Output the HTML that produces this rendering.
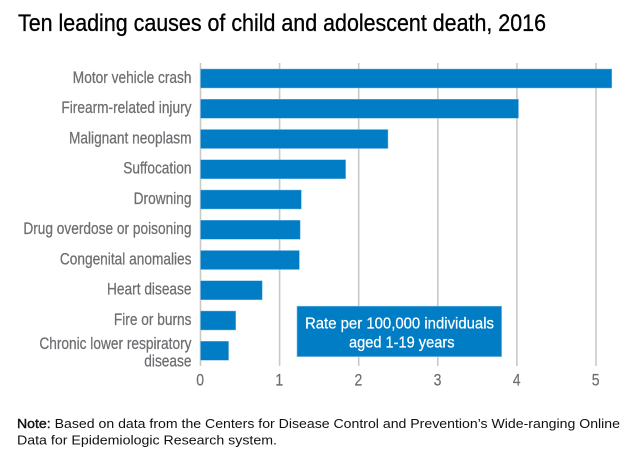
<!DOCTYPE html>
<html>
<head>
<meta charset="utf-8">
<style>
html,body{margin:0;padding:0;background:#fff;}
svg{display:block;font-family:"Liberation Sans",sans-serif;}
</style>
</head>
<body>
<svg id="chart" xmlns="http://www.w3.org/2000/svg" width="626" height="454" viewBox="0 0 626 454">
<rect x="0" y="0" width="626" height="454" fill="#ffffff"/>
<text x="18" y="31" font-size="24" fill="#000000" stroke="#000000" stroke-width="0.3" textLength="528" lengthAdjust="spacingAndGlyphs">Ten leading causes of child and adolescent death, 2016</text>
<g id="grid"></g>
<g id="bars"></g>
<g id="cats"></g>
<g id="ticks"></g>
<g>
<rect x="297" y="306.2" width="204.6" height="50.4" fill="#007dc5" stroke="#7dbbe2" stroke-width="0.6"/>
<text x="305" y="328.5" font-size="16" fill="#ffffff" stroke="#ffffff" stroke-width="0.25" textLength="189" lengthAdjust="spacingAndGlyphs">Rate per 100,000 individuals</text>
<text x="349" y="347.5" font-size="16" fill="#ffffff" stroke="#ffffff" stroke-width="0.25" textLength="105.5" lengthAdjust="spacingAndGlyphs">aged 1-19 years</text>
</g>
<text x="17" y="428" font-size="13" fill="#111111" textLength="603" lengthAdjust="spacingAndGlyphs"><tspan stroke="#111111" stroke-width="0.4">Note:</tspan> Based on data from the Centers for Disease Control and Prevention’s Wide-ranging Online</text>
<text x="17" y="444.5" font-size="13" fill="#111111" textLength="260" lengthAdjust="spacingAndGlyphs">Data for Epidemiologic Research system.</text>
</svg>
<script>
const categories = ["Motor vehicle crash","Firearm-related injury","Malignant neoplasm","Suffocation","Drowning","Drug overdose or poisoning","Congenital anomalies","Heart disease","Fire or burns","Chronic lower respiratory|disease"];
const rates = [5.2,4.02,2.37,1.835,1.275,1.26,1.25,0.78,0.445,0.355];
const tickValues = [0,1,2,3,4,5];

const NS = "http://www.w3.org/2000/svg";
const xZero = 200.5, xUnit = 79.1;
const bandStart = 69, bandStep = 30.25, barHeight = 19;
const gridTop = 63, gridBottom = 366;
const labelRight = 191.5, labelScale = 0.83, tickScale = 0.85;
const grey = "#6d6e71";

function xScale(v){ return xZero + v * xUnit; }
function bandTop(i){ return bandStart + i * bandStep; }
function make(tag, attrs, parent){
  const el = document.createElementNS(NS, tag);
  for (const k in attrs) el.setAttribute(k, attrs[k]);
  parent.appendChild(el);
  return el;
}
function addLabel(parent, line, y){
  const t = make("text", {
    transform: "translate(" + labelRight + "," + y + ") scale(" + labelScale + ",1)",
    "text-anchor": "end", "font-size": 16.5, fill: grey, stroke: grey, "stroke-width": 0.25
  }, parent);
  
  
  t.textContent = line;
}

const gridG = document.getElementById("grid");
const barsG = document.getElementById("bars");
const catsG = document.getElementById("cats");
const ticksG = document.getElementById("ticks");

tickValues.forEach(function(v){
  const line = make("line", {
    x1: xScale(v), x2: xScale(v), y1: gridTop, y2: gridBottom,
    stroke: "#c9c9c9", "stroke-width": 1.6
  }, gridG);
  
  
  const label = make("text", {
    transform: "translate(" + (xScale(v) - 0.3) + ",385.5) scale(" + tickScale + ",1)",
    "text-anchor": "middle", "font-size": 16.5, fill: grey, stroke: grey, "stroke-width": 0.2
  }, ticksG);
  
  
  label.textContent = String(v);
});

rates.forEach(function(v, i){
  const top = bandTop(i);
  const bar = make("rect", {
    x: xScale(0), y: top, width: xScale(v) - xScale(0), height: barHeight,
    fill: "#007dc5", stroke: "#7dbbe2", "stroke-width": 0.5
  }, barsG);
  
  
  const lines = categories[i].split("|");
  const centre = top + barHeight / 2;
  if (lines.length === 1) {
    addLabel(catsG, lines[0], centre + 4.4);
  } else {
    addLabel(catsG, lines[0], centre - 1.7);
    addLabel(catsG, lines[1], centre + 15.7);
  }
});
</script>
</body>
</html>
